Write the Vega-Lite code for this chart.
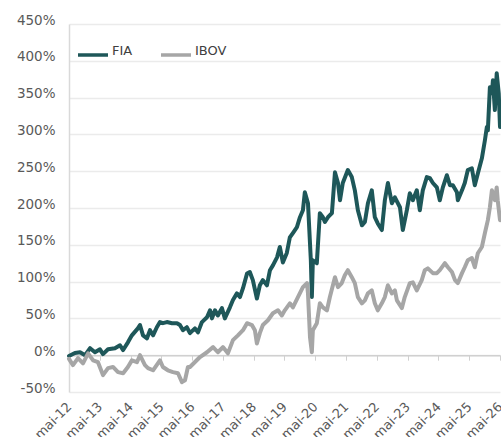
{
  "$schema": "https://vega.github.io/schema/vega-lite/v6.json",
  "width": 431,
  "height": 368,
  "autosize": "none",
  "padding": {"left": 69, "top": 24, "right": 1, "bottom": 45},
  "background": "white",
  "config": {
    "view": {"stroke": null},
    "font": "DejaVu Sans",
    "axis": {"labelFont": "DejaVu Sans", "labelColor": "#595959", "labelFontSize": 13.5}
  },
  "data": {
    "values": [
      {"d":"2012-05-01","s":"FIA","v":-1},
      {"d":"2012-07-10","s":"FIA","v":3},
      {"d":"2012-09-09","s":"FIA","v":4},
      {"d":"2012-11-08","s":"FIA","v":0},
      {"d":"2013-01-06","s":"FIA","v":9.5},
      {"d":"2013-03-05","s":"FIA","v":4},
      {"d":"2013-05-03","s":"FIA","v":8},
      {"d":"2013-06-08","s":"FIA","v":1.5},
      {"d":"2013-08-07","s":"FIA","v":8},
      {"d":"2013-10-28","s":"FIA","v":9.5},
      {"d":"2013-12-27","s":"FIA","v":13.5},
      {"d":"2014-02-02","s":"FIA","v":7},
      {"d":"2014-03-31","s":"FIA","v":17.5},
      {"d":"2014-05-17","s":"FIA","v":27},
      {"d":"2014-07-27","s":"FIA","v":36.5},
      {"d":"2014-08-21","s":"FIA","v":41},
      {"d":"2014-09-26","s":"FIA","v":27},
      {"d":"2014-11-12","s":"FIA","v":23},
      {"d":"2014-12-18","s":"FIA","v":34},
      {"d":"2015-01-23","s":"FIA","v":27},
      {"d":"2015-03-09","s":"FIA","v":38},
      {"d":"2015-04-15","s":"FIA","v":45},
      {"d":"2015-05-20","s":"FIA","v":43.5},
      {"d":"2015-07-06","s":"FIA","v":45},
      {"d":"2015-09-05","s":"FIA","v":43.5},
      {"d":"2015-11-03","s":"FIA","v":43.5},
      {"d":"2015-12-08","s":"FIA","v":41},
      {"d":"2016-01-13","s":"FIA","v":34},
      {"d":"2016-02-28","s":"FIA","v":38},
      {"d":"2016-04-05","s":"FIA","v":30},
      {"d":"2016-06-03","s":"FIA","v":36.5},
      {"d":"2016-07-09","s":"FIA","v":31},
      {"d":"2016-08-25","s":"FIA","v":45},
      {"d":"2016-10-24","s":"FIA","v":51.5},
      {"d":"2016-11-29","s":"FIA","v":61},
      {"d":"2016-12-22","s":"FIA","v":50},
      {"d":"2017-01-27","s":"FIA","v":61},
      {"d":"2017-03-02","s":"FIA","v":54},
      {"d":"2017-04-19","s":"FIA","v":64},
      {"d":"2017-05-24","s":"FIA","v":50},
      {"d":"2017-07-23","s":"FIA","v":65},
      {"d":"2017-08-28","s":"FIA","v":75},
      {"d":"2017-10-14","s":"FIA","v":84},
      {"d":"2017-11-19","s":"FIA","v":79},
      {"d":"2017-12-25","s":"FIA","v":91},
      {"d":"2018-02-11","s":"FIA","v":111},
      {"d":"2018-03-16","s":"FIA","v":113},
      {"d":"2018-04-21","s":"FIA","v":102},
      {"d":"2018-06-08","s":"FIA","v":77},
      {"d":"2018-07-13","s":"FIA","v":95},
      {"d":"2018-08-18","s":"FIA","v":102},
      {"d":"2018-10-05","s":"FIA","v":95},
      {"d":"2018-11-10","s":"FIA","v":115.5},
      {"d":"2018-12-15","s":"FIA","v":122},
      {"d":"2019-02-02","s":"FIA","v":133},
      {"d":"2019-03-07","s":"FIA","v":147},
      {"d":"2019-04-12","s":"FIA","v":126},
      {"d":"2019-05-29","s":"FIA","v":139},
      {"d":"2019-07-04","s":"FIA","v":160},
      {"d":"2019-08-09","s":"FIA","v":166},
      {"d":"2019-09-26","s":"FIA","v":174},
      {"d":"2019-11-01","s":"FIA","v":187.5},
      {"d":"2019-12-06","s":"FIA","v":197},
      {"d":"2019-12-29","s":"FIA","v":221.5},
      {"d":"2020-02-04","s":"FIA","v":206.5},
      {"d":"2020-03-09","s":"FIA","v":129},
      {"d":"2020-03-21","s":"FIA","v":79},
      {"d":"2020-04-02","s":"FIA","v":129},
      {"d":"2020-05-19","s":"FIA","v":125},
      {"d":"2020-06-24","s":"FIA","v":193},
      {"d":"2020-07-30","s":"FIA","v":187.5},
      {"d":"2020-08-23","s":"FIA","v":181},
      {"d":"2020-09-28","s":"FIA","v":187.5},
      {"d":"2020-11-14","s":"FIA","v":193},
      {"d":"2020-12-20","s":"FIA","v":248.5},
      {"d":"2021-01-25","s":"FIA","v":234},
      {"d":"2021-02-18","s":"FIA","v":210.5},
      {"d":"2021-03-23","s":"FIA","v":234},
      {"d":"2021-05-22","s":"FIA","v":251.5},
      {"d":"2021-07-08","s":"FIA","v":242},
      {"d":"2021-08-13","s":"FIA","v":224},
      {"d":"2021-09-18","s":"FIA","v":197},
      {"d":"2021-11-05","s":"FIA","v":176.5},
      {"d":"2021-12-10","s":"FIA","v":181},
      {"d":"2022-01-15","s":"FIA","v":206.5},
      {"d":"2022-03-02","s":"FIA","v":224},
      {"d":"2022-04-07","s":"FIA","v":187.5},
      {"d":"2022-05-12","s":"FIA","v":179},
      {"d":"2022-06-29","s":"FIA","v":170},
      {"d":"2022-08-04","s":"FIA","v":210.5},
      {"d":"2022-09-09","s":"FIA","v":234},
      {"d":"2022-10-26","s":"FIA","v":206.5},
      {"d":"2022-12-01","s":"FIA","v":214.5},
      {"d":"2023-01-30","s":"FIA","v":201},
      {"d":"2023-03-05","s":"FIA","v":170},
      {"d":"2023-04-22","s":"FIA","v":197},
      {"d":"2023-05-27","s":"FIA","v":220},
      {"d":"2023-07-02","s":"FIA","v":210.5},
      {"d":"2023-08-18","s":"FIA","v":224},
      {"d":"2023-09-23","s":"FIA","v":197},
      {"d":"2023-10-28","s":"FIA","v":224},
      {"d":"2023-12-15","s":"FIA","v":242},
      {"d":"2024-01-20","s":"FIA","v":240.5},
      {"d":"2024-02-25","s":"FIA","v":234},
      {"d":"2024-04-12","s":"FIA","v":228},
      {"d":"2024-05-17","s":"FIA","v":210.5},
      {"d":"2024-06-22","s":"FIA","v":228},
      {"d":"2024-08-09","s":"FIA","v":244.5},
      {"d":"2024-09-14","s":"FIA","v":231},
      {"d":"2024-10-19","s":"FIA","v":231},
      {"d":"2024-12-06","s":"FIA","v":221.5},
      {"d":"2024-12-17","s":"FIA","v":210.5},
      {"d":"2025-02-04","s":"FIA","v":224},
      {"d":"2025-03-09","s":"FIA","v":234},
      {"d":"2025-04-14","s":"FIA","v":251.5},
      {"d":"2025-06-01","s":"FIA","v":254},
      {"d":"2025-07-06","s":"FIA","v":231},
      {"d":"2025-08-11","s":"FIA","v":247},
      {"d":"2025-09-28","s":"FIA","v":267.5},
      {"d":"2025-11-03","s":"FIA","v":292},
      {"d":"2025-11-26","s":"FIA","v":310},
      {"d":"2025-12-08","s":"FIA","v":305.5},
      {"d":"2026-01-01","s":"FIA","v":364},
      {"d":"2026-01-25","s":"FIA","v":356},
      {"d":"2026-02-06","s":"FIA","v":373.5},
      {"d":"2026-03-01","s":"FIA","v":333},
      {"d":"2026-03-23","s":"FIA","v":383},
      {"d":"2026-04-16","s":"FIA","v":356},
      {"d":"2026-05-01","s":"FIA","v":310},
      {"d":"2012-05-01","s":"IBOV","v":-5},
      {"d":"2012-05-12","s":"IBOV","v":-7},
      {"d":"2012-06-17","s":"IBOV","v":-13.5},
      {"d":"2012-08-16","s":"IBOV","v":-4},
      {"d":"2012-10-14","s":"IBOV","v":-11},
      {"d":"2012-12-13","s":"IBOV","v":2.5},
      {"d":"2013-02-11","s":"IBOV","v":-7},
      {"d":"2013-04-10","s":"IBOV","v":-9.5},
      {"d":"2013-06-08","s":"IBOV","v":-27},
      {"d":"2013-08-07","s":"IBOV","v":-17.5},
      {"d":"2013-10-05","s":"IBOV","v":-16},
      {"d":"2013-12-03","s":"IBOV","v":-23},
      {"d":"2014-02-02","s":"IBOV","v":-24.5},
      {"d":"2014-03-31","s":"IBOV","v":-16},
      {"d":"2014-05-17","s":"IBOV","v":-7},
      {"d":"2014-07-16","s":"IBOV","v":-9.5},
      {"d":"2014-08-21","s":"IBOV","v":0},
      {"d":"2014-10-19","s":"IBOV","v":-13.5},
      {"d":"2014-11-24","s":"IBOV","v":-17.5},
      {"d":"2015-01-23","s":"IBOV","v":-20.5},
      {"d":"2015-04-15","s":"IBOV","v":-7},
      {"d":"2015-05-20","s":"IBOV","v":-16},
      {"d":"2015-07-18","s":"IBOV","v":-20.5},
      {"d":"2015-09-16","s":"IBOV","v":-23},
      {"d":"2015-11-15","s":"IBOV","v":-24.5},
      {"d":"2016-01-01","s":"IBOV","v":-36.5},
      {"d":"2016-02-06","s":"IBOV","v":-34},
      {"d":"2016-03-12","s":"IBOV","v":-16},
      {"d":"2016-04-05","s":"IBOV","v":-16},
      {"d":"2016-08-02","s":"IBOV","v":-2.5},
      {"d":"2016-10-24","s":"IBOV","v":4},
      {"d":"2017-01-04","s":"IBOV","v":11},
      {"d":"2017-03-02","s":"IBOV","v":4},
      {"d":"2017-05-01","s":"IBOV","v":11},
      {"d":"2017-06-29","s":"IBOV","v":2.5},
      {"d":"2017-08-28","s":"IBOV","v":20.5},
      {"d":"2017-10-26","s":"IBOV","v":27},
      {"d":"2017-12-25","s":"IBOV","v":34},
      {"d":"2018-02-11","s":"IBOV","v":43.5},
      {"d":"2018-04-10","s":"IBOV","v":41},
      {"d":"2018-05-15","s":"IBOV","v":34},
      {"d":"2018-06-08","s":"IBOV","v":16},
      {"d":"2018-07-13","s":"IBOV","v":30},
      {"d":"2018-08-18","s":"IBOV","v":41},
      {"d":"2018-10-17","s":"IBOV","v":47.5},
      {"d":"2018-12-15","s":"IBOV","v":57},
      {"d":"2019-02-13","s":"IBOV","v":61},
      {"d":"2019-03-31","s":"IBOV","v":54},
      {"d":"2019-05-05","s":"IBOV","v":61},
      {"d":"2019-07-04","s":"IBOV","v":70.5},
      {"d":"2019-08-09","s":"IBOV","v":65},
      {"d":"2019-10-08","s":"IBOV","v":79},
      {"d":"2019-12-06","s":"IBOV","v":92.5},
      {"d":"2020-01-23","s":"IBOV","v":98},
      {"d":"2020-02-04","s":"IBOV","v":84},
      {"d":"2020-02-28","s":"IBOV","v":24.5},
      {"d":"2020-03-21","s":"IBOV","v":4},
      {"d":"2020-04-02","s":"IBOV","v":34},
      {"d":"2020-05-19","s":"IBOV","v":43.5},
      {"d":"2020-06-24","s":"IBOV","v":70.5},
      {"d":"2020-07-30","s":"IBOV","v":65},
      {"d":"2020-09-16","s":"IBOV","v":61},
      {"d":"2020-10-21","s":"IBOV","v":79},
      {"d":"2020-12-20","s":"IBOV","v":106},
      {"d":"2021-01-25","s":"IBOV","v":92.5},
      {"d":"2021-03-11","s":"IBOV","v":98},
      {"d":"2021-04-16","s":"IBOV","v":108.5},
      {"d":"2021-05-22","s":"IBOV","v":115.5},
      {"d":"2021-07-08","s":"IBOV","v":106},
      {"d":"2021-08-13","s":"IBOV","v":98},
      {"d":"2021-09-18","s":"IBOV","v":79},
      {"d":"2021-11-05","s":"IBOV","v":70.5},
      {"d":"2021-12-10","s":"IBOV","v":74.5},
      {"d":"2022-01-15","s":"IBOV","v":84},
      {"d":"2022-03-02","s":"IBOV","v":88},
      {"d":"2022-04-07","s":"IBOV","v":70.5},
      {"d":"2022-05-12","s":"IBOV","v":61},
      {"d":"2022-06-29","s":"IBOV","v":70.5},
      {"d":"2022-08-04","s":"IBOV","v":79},
      {"d":"2022-09-09","s":"IBOV","v":95},
      {"d":"2022-10-26","s":"IBOV","v":84},
      {"d":"2022-12-01","s":"IBOV","v":88},
      {"d":"2022-12-25","s":"IBOV","v":74.5},
      {"d":"2023-02-22","s":"IBOV","v":64},
      {"d":"2023-03-28","s":"IBOV","v":79},
      {"d":"2023-05-27","s":"IBOV","v":98},
      {"d":"2023-07-02","s":"IBOV","v":99},
      {"d":"2023-08-18","s":"IBOV","v":88},
      {"d":"2023-10-16","s":"IBOV","v":102},
      {"d":"2023-11-21","s":"IBOV","v":115.5},
      {"d":"2023-12-27","s":"IBOV","v":118},
      {"d":"2024-02-25","s":"IBOV","v":111.5},
      {"d":"2024-04-12","s":"IBOV","v":111.5},
      {"d":"2024-05-17","s":"IBOV","v":115.5},
      {"d":"2024-07-16","s":"IBOV","v":125},
      {"d":"2024-08-21","s":"IBOV","v":119.5},
      {"d":"2024-10-08","s":"IBOV","v":113},
      {"d":"2024-11-13","s":"IBOV","v":102},
      {"d":"2024-12-17","s":"IBOV","v":98},
      {"d":"2025-02-04","s":"IBOV","v":111.5},
      {"d":"2025-03-09","s":"IBOV","v":119.5},
      {"d":"2025-04-14","s":"IBOV","v":129},
      {"d":"2025-06-01","s":"IBOV","v":132},
      {"d":"2025-07-06","s":"IBOV","v":119.5},
      {"d":"2025-08-11","s":"IBOV","v":138.5},
      {"d":"2025-09-28","s":"IBOV","v":147},
      {"d":"2025-11-03","s":"IBOV","v":166},
      {"d":"2025-12-08","s":"IBOV","v":183.5},
      {"d":"2026-01-01","s":"IBOV","v":201},
      {"d":"2026-01-25","s":"IBOV","v":224},
      {"d":"2026-03-01","s":"IBOV","v":210.5},
      {"d":"2026-03-23","s":"IBOV","v":228},
      {"d":"2026-04-04","s":"IBOV","v":210.5},
      {"d":"2026-05-01","s":"IBOV","v":183.5}
    ]
  },
  "mark": {"type": "line", "strokeWidth": 4, "strokeJoin": "round", "strokeCap": "round"},
  "encoding": {
    "x": {
      "field": "d",
      "type": "temporal",
      "scale": {"domain": [{"year": 2012, "month": 5, "date": 1}, {"year": 2026, "month": 5, "date": 1}], "nice": false},
      "axis": {
        "title": null,
        "values": [
          {"year": 2012, "month": 5, "date": 1}, {"year": 2013, "month": 5, "date": 1},
          {"year": 2014, "month": 5, "date": 1}, {"year": 2015, "month": 5, "date": 1},
          {"year": 2016, "month": 5, "date": 1}, {"year": 2017, "month": 5, "date": 1},
          {"year": 2018, "month": 5, "date": 1}, {"year": 2019, "month": 5, "date": 1},
          {"year": 2020, "month": 5, "date": 1}, {"year": 2021, "month": 5, "date": 1},
          {"year": 2022, "month": 5, "date": 1}, {"year": 2023, "month": 5, "date": 1},
          {"year": 2024, "month": 5, "date": 1}, {"year": 2025, "month": 5, "date": 1},
          {"year": 2026, "month": 5, "date": 1}
        ],
        "labelExpr": "'mai-' + timeFormat(datum.value, '%y')",
        "offset": -36.8,
        "domain": true,
        "domainColor": "#d0d0d0",
        "domainWidth": 1.5,
        "ticks": true,
        "tickColor": "#d0d0d0",
        "tickSize": 5,
        "labelAngle": -45,
        "labelAlign": "right",
        "labelBaseline": "middle",
        "labelPadding": 44,
        "labelFontSize": 13,
        "labelOverlap": false,
        "labelFlush": false,
        "grid": false
      }
    },
    "y": {
      "field": "v",
      "type": "quantitative",
      "scale": {"domain": [-50, 450], "nice": false, "zero": false},
      "axis": {
        "title": null,
        "values": [-50, 0, 50, 100, 150, 200, 250, 300, 350, 400, 450],
        "labelExpr": "datum.value + '%'",
        "ticks": false,
        "tickSize": 0,
        "labelPadding": 14,
        "labelBaseline": "alphabetic",
        "domain": true,
        "domainColor": "#d9d9d9",
        "domainWidth": 1.5,
        "grid": true,
        "gridColor": "#ebebeb",
        "gridWidth": 1.5
      }
    },
    "color": {
      "field": "s",
      "type": "nominal",
      "scale": {"domain": ["FIA", "IBOV"], "range": ["#1E5759", "#A6A6A6"]},
      "legend": {
        "title": null,
        "orient": "none",
        "legendX": 7,
        "legendY": 14,
        "direction": "horizontal",
        "symbolType": "stroke",
        "symbolSize": 900,
        "symbolStrokeWidth": 3.5,
        "labelFont": "DejaVu Sans",
        "labelFontSize": 13,
        "labelColor": "#404040",
        "labelBaseline": "alphabetic",
        "labelOffset": 2,
        "columnPadding": 21
      }
    }
  }
}
